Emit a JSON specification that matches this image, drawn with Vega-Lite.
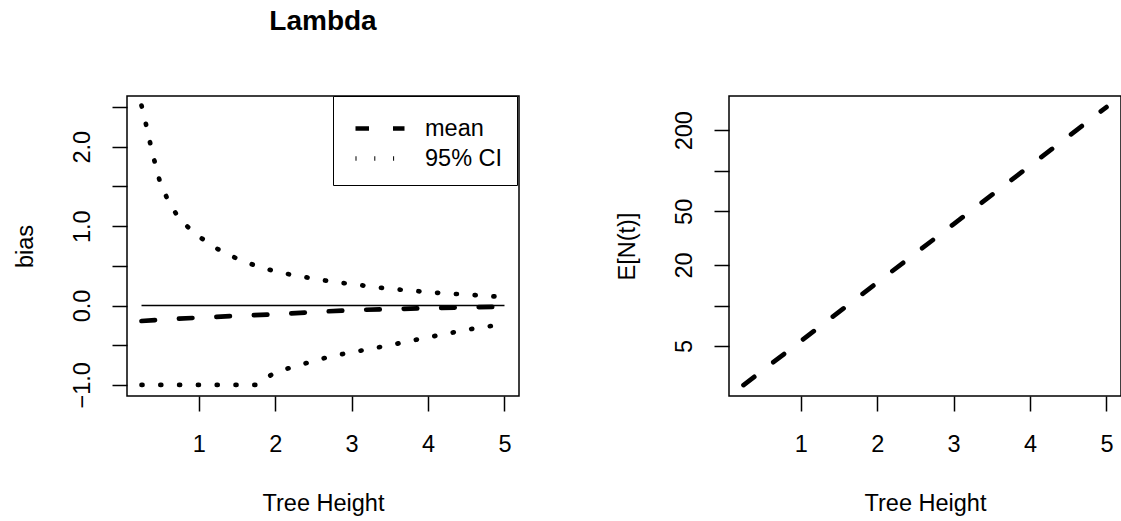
{
  "$schema": "https://vega.github.io/schema/vega-lite/v6.json",
  "background": "white",
  "padding": {"left": 12, "top": 7, "right": 0, "bottom": 0},
  "bounds": "flush",
  "spacing": 210,
  "config": {
    "font": "Liberation Sans",
    "view": {"stroke": "black", "strokeWidth": 1.5},
    "axis": {
      "domain": false, "grid": false,
      "tickColor": "black", "tickWidth": 1.5, "tickSize": 15,
      "labelColor": "black", "labelFontSize": 23.5, "labelFont": "Liberation Sans",
      "titleFont": "Liberation Sans", "titleFontSize": 23.5, "titleFontWeight": "normal", "titleColor": "black",
      "labelOverlap": false, "labelFlush": false
    }
  },
  "datasets": {
    "bias": [
      {"t": 0.25, "value": -0.195, "type": "mean", "series": "mean"},
      {"t": 0.5, "value": -0.178, "type": "mean", "series": "mean"},
      {"t": 1.0, "value": -0.153, "type": "mean", "series": "mean"},
      {"t": 1.5, "value": -0.13, "type": "mean", "series": "mean"},
      {"t": 2.0, "value": -0.11, "type": "mean", "series": "mean"},
      {"t": 2.5, "value": -0.082, "type": "mean", "series": "mean"},
      {"t": 3.0, "value": -0.058, "type": "mean", "series": "mean"},
      {"t": 3.5, "value": -0.046, "type": "mean", "series": "mean"},
      {"t": 4.0, "value": -0.033, "type": "mean", "series": "mean"},
      {"t": 4.5, "value": -0.022, "type": "mean", "series": "mean"},
      {"t": 5.0, "value": -0.015, "type": "mean", "series": "mean"},
      {"t": 0.25, "value": 2.52, "type": "95% CI", "series": "upper"},
      {"t": 0.3, "value": 2.32, "type": "95% CI", "series": "upper"},
      {"t": 0.35, "value": 2.1, "type": "95% CI", "series": "upper"},
      {"t": 0.4, "value": 1.9, "type": "95% CI", "series": "upper"},
      {"t": 0.45, "value": 1.7, "type": "95% CI", "series": "upper"},
      {"t": 0.5, "value": 1.53, "type": "95% CI", "series": "upper"},
      {"t": 0.6, "value": 1.32, "type": "95% CI", "series": "upper"},
      {"t": 0.75, "value": 1.08, "type": "95% CI", "series": "upper"},
      {"t": 1.0, "value": 0.87, "type": "95% CI", "series": "upper"},
      {"t": 1.25, "value": 0.71, "type": "95% CI", "series": "upper"},
      {"t": 1.5, "value": 0.59, "type": "95% CI", "series": "upper"},
      {"t": 1.75, "value": 0.5, "type": "95% CI", "series": "upper"},
      {"t": 2.0, "value": 0.43, "type": "95% CI", "series": "upper"},
      {"t": 2.25, "value": 0.38, "type": "95% CI", "series": "upper"},
      {"t": 2.5, "value": 0.34, "type": "95% CI", "series": "upper"},
      {"t": 2.75, "value": 0.3, "type": "95% CI", "series": "upper"},
      {"t": 3.0, "value": 0.27, "type": "95% CI", "series": "upper"},
      {"t": 3.25, "value": 0.24, "type": "95% CI", "series": "upper"},
      {"t": 3.5, "value": 0.21, "type": "95% CI", "series": "upper"},
      {"t": 3.75, "value": 0.19, "type": "95% CI", "series": "upper"},
      {"t": 4.0, "value": 0.17, "type": "95% CI", "series": "upper"},
      {"t": 4.25, "value": 0.15, "type": "95% CI", "series": "upper"},
      {"t": 4.5, "value": 0.14, "type": "95% CI", "series": "upper"},
      {"t": 4.75, "value": 0.12, "type": "95% CI", "series": "upper"},
      {"t": 5.0, "value": 0.11, "type": "95% CI", "series": "upper"},
      {"t": 0.25, "value": -1.0, "type": "95% CI", "series": "lower"},
      {"t": 0.5, "value": -1.0, "type": "95% CI", "series": "lower"},
      {"t": 0.75, "value": -1.0, "type": "95% CI", "series": "lower"},
      {"t": 1.0, "value": -1.0, "type": "95% CI", "series": "lower"},
      {"t": 1.25, "value": -1.0, "type": "95% CI", "series": "lower"},
      {"t": 1.5, "value": -1.0, "type": "95% CI", "series": "lower"},
      {"t": 1.75, "value": -1.0, "type": "95% CI", "series": "lower"},
      {"t": 2.0, "value": -0.84, "type": "95% CI", "series": "lower"},
      {"t": 2.25, "value": -0.77, "type": "95% CI", "series": "lower"},
      {"t": 2.5, "value": -0.7, "type": "95% CI", "series": "lower"},
      {"t": 2.75, "value": -0.635, "type": "95% CI", "series": "lower"},
      {"t": 3.0, "value": -0.59, "type": "95% CI", "series": "lower"},
      {"t": 3.25, "value": -0.545, "type": "95% CI", "series": "lower"},
      {"t": 3.5, "value": -0.5, "type": "95% CI", "series": "lower"},
      {"t": 3.75, "value": -0.45, "type": "95% CI", "series": "lower"},
      {"t": 4.0, "value": -0.4, "type": "95% CI", "series": "lower"},
      {"t": 4.25, "value": -0.355, "type": "95% CI", "series": "lower"},
      {"t": 4.5, "value": -0.305, "type": "95% CI", "series": "lower"},
      {"t": 4.75, "value": -0.27, "type": "95% CI", "series": "lower"},
      {"t": 5.0, "value": -0.23, "type": "95% CI", "series": "lower"}
    ],
    "zero": [
      {"t": 0.25, "value": 0},
      {"t": 5.0, "value": 0}
    ],
    "growth": [
      {"t": 0.25, "n": 2.57},
      {"t": 1.0, "n": 5.44},
      {"t": 2.0, "n": 14.8},
      {"t": 3.0, "n": 40.2},
      {"t": 4.0, "n": 109},
      {"t": 5.0, "n": 297}
    ]
  },
  "hconcat": [
    {
      "width": 392,
      "height": 300,
      "title": {"text": "Lambda", "fontSize": 28, "fontWeight": "bold", "font": "Liberation Sans", "anchor": "middle", "frame": "group", "offset": 38, "baseline": "alphabetic", "color": "black"},
      "encoding": {
        "x": {
          "field": "t", "type": "quantitative",
          "scale": {"domain": [0.06, 5.19], "nice": false, "zero": false},
          "axis": {"values": [1, 2, 3, 4, 5], "title": "Tree Height", "labelAngle": 0, "labelBaseline": "alphabetic", "labelAlign": "center", "labelPadding": 40,
                   "titleX": 196, "titleY": 114, "titleBaseline": "alphabetic", "titleAlign": "center", "titleAngle": 0}
        },
        "y": {
          "field": "value", "type": "quantitative",
          "scale": {"domain": [-1.14, 2.64], "nice": false, "zero": false},
          "axis": {"values": [-1, -0.5, 0, 0.5, 1, 1.5, 2, 2.5], "labelExpr": "datum.value % 1 == 0 ? format(datum.value, '.1f') : ''",
                   "title": "bias", "labelAngle": -90, "labelAlign": "center", "labelBaseline": "alphabetic", "labelPadding": 23,
                   "titleX": -95, "titleY": 150, "titleAngle": -90, "titleAlign": "center", "titleBaseline": "alphabetic"}
        }
      },
      "layer": [
        {
          "data": {"name": "zero"},
          "mark": {"type": "line", "color": "black", "strokeWidth": 1.5}
        },
        {
          "data": {"name": "bias"},
          "mark": {"type": "line", "color": "black", "strokeWidth": 4.7, "strokeCap": "round"},
          "encoding": {
            "detail": {"field": "series"},
            "strokeDash": {
              "field": "type", "type": "nominal",
              "scale": {"domain": ["mean", "95% CI"], "range": [[13.5, 24], [1, 17.8]]},
              "legend": {
                "title": null, "orient": "none", "legendX": 206, "legendY": 0,
                "strokeColor": "black", "fillColor": "white", "padding": 14.5,
                "symbolType": "M-1.6,0H1.6", "symbolSize": 938, "symbolStrokeWidth": 4.7, "symbolStrokeColor": "black", "symbolOffset": 14.5,
                "labelFontSize": 23.5, "labelFont": "Liberation Sans", "labelColor": "black", "labelOffset": 27, "rowPadding": 0
              }
            }
          }
        }
      ]
    },
    {
      "width": 392,
      "height": 300,
      "data": {"name": "growth"},
      "mark": {"type": "line", "color": "black", "strokeWidth": 4.7, "strokeCap": "round", "strokeDash": [13.5, 24]},
      "encoding": {
        "x": {
          "field": "t", "type": "quantitative",
          "scale": {"domain": [0.06, 5.19], "nice": false, "zero": false},
          "axis": {"values": [1, 2, 3, 4, 5], "title": "Tree Height", "labelAngle": 0, "labelBaseline": "alphabetic", "labelAlign": "center", "labelPadding": 40,
                   "titleX": 196, "titleY": 114, "titleBaseline": "alphabetic", "titleAlign": "center", "titleAngle": 0}
        },
        "y": {
          "field": "n", "type": "quantitative",
          "scale": {"type": "log", "domain": [2.13, 359], "nice": false},
          "axis": {"values": [5, 10, 20, 50, 100, 200], "labelExpr": "(datum.value == 5 || datum.value == 20 || datum.value == 50 || datum.value == 200) ? format(datum.value, 'd') : ''",
                   "title": "E[N(t)]", "labelAngle": -90, "labelAlign": "center", "labelBaseline": "alphabetic", "labelPadding": 23,
                   "titleX": -95, "titleY": 150, "titleAngle": -90, "titleAlign": "center", "titleBaseline": "alphabetic"}
        }
      }
    }
  ]
}
